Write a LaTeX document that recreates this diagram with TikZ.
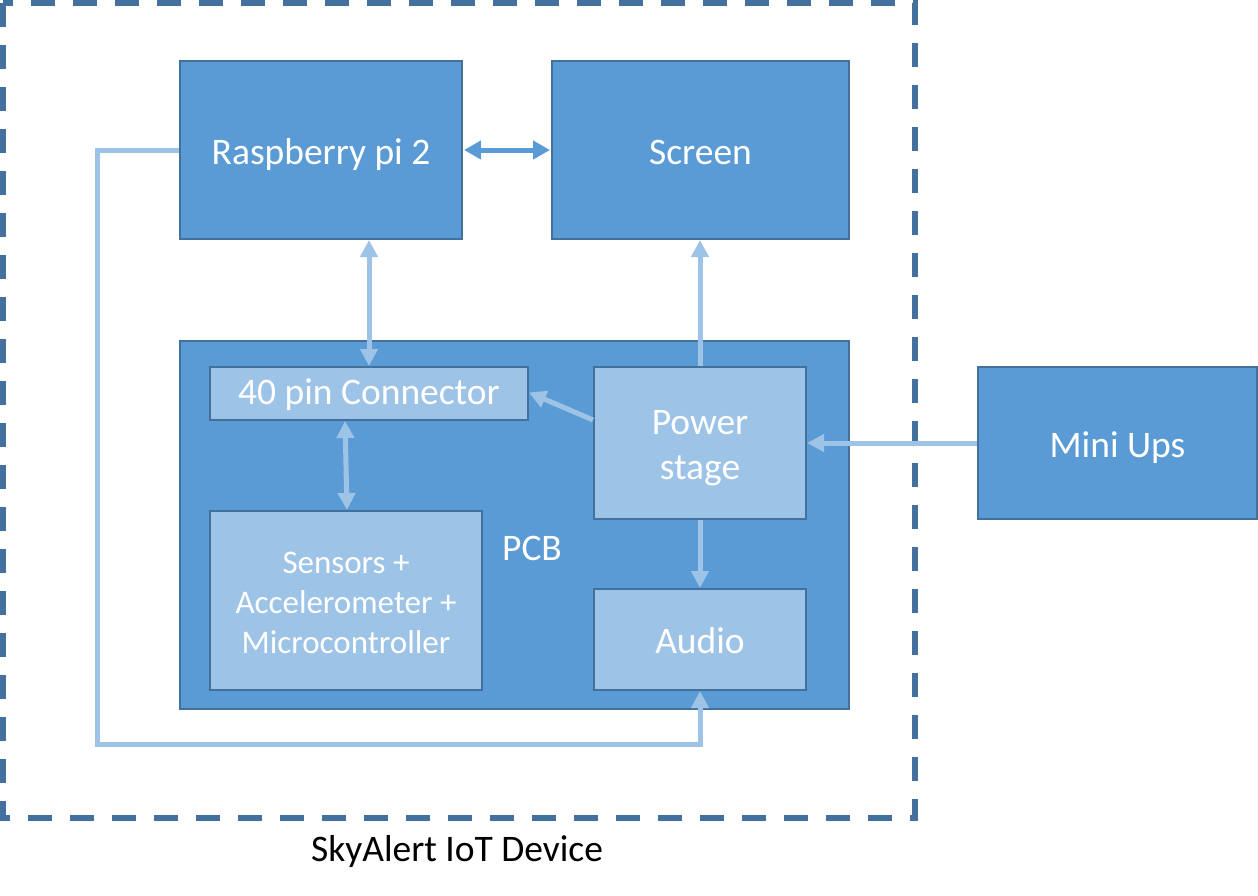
\documentclass[tikz,border=0pt]{standalone}
\usepackage{fontspec}
\setmainfont{Carlito}
\usetikzlibrary{arrows.meta}
\definecolor{dk}{HTML}{41719C}
\definecolor{md}{HTML}{5B9BD5}
\definecolor{lt}{HTML}{9DC3E6}
\begin{document}
\begin{tikzpicture}[x=1pt,y=-1pt,
  big/.style={font=\fontsize{37.5}{45}\selectfont},
  low/.style={text height=36pt,text depth=8pt},
  blk/.style={draw=dk,line width=2pt,fill=md,text=white,big},
  sub/.style={draw=dk,line width=2pt,fill=lt,text=white,big},
  la/.style={draw=lt,line width=5pt,-{Triangle[width=17pt,length=17pt]}},
  lab/.style={draw=lt,line width=5pt,{Triangle[width=17pt,length=17pt]}-{Triangle[width=17pt,length=17pt]}},
]
\useasboundingbox (0,0) rectangle (1258,895);
\draw[dk,line width=6pt,dash pattern=on 24pt off 18pt] (3,3) rectangle (915,818);
\node[blk,low,minimum width=282pt,minimum height=178pt] (rpi) at (321,150) {Raspberry pi 2};
\node[blk,low,minimum width=297pt,minimum height=178pt] (scr) at (700.5,150) {Screen};
\node[blk,minimum width=669pt,minimum height=368pt] (pcb) at (514.5,525) {};
\node[text=white,big] (pcbl) at (532,548) {PCB};
\node[sub,minimum width=318pt,minimum height=53pt,text height=30pt,text depth=8pt,inner ysep=0pt] (con) at (369,393.5) {40 pin Connector};
\node[sub,minimum width=212pt,minimum height=152pt] (pow) at (700,443) {};
\node[text=white,big,align=center] (powl) at (700,448) {Power\\stage};
\node[sub,minimum width=272pt,minimum height=179pt,align=center,font=\fontsize{33}{40}\selectfont] (sen) at (346,600.5) {};
\node[text=white,align=center,font=\fontsize{33}{40}\selectfont] (senl) at (346,602.5) {Sensors +\\Accelerometer +\\Microcontroller};
\node[sub,low,minimum width=212pt,minimum height=101pt] (aud) at (700,639.5) {Audio};
\node[blk,low,minimum width=279pt,minimum height=152pt] (ups) at (1117.5,443) {Mini Ups};
\node[big] (title) at (457,851) {SkyAlert IoT Device};
\coordinate (c1) at (97,150);
\coordinate (c2) at (97,744);
\coordinate (c3) at (700,744);
% connectors
\draw[md,line width=5pt,{Triangle[width=18pt,length=17pt]}-{Triangle[width=18pt,length=17pt]},shorten <=1pt,shorten >=1pt] (rpi.east) -- (scr.west);
\draw[lab] (rpi.south -| con.north) -- (con.north);
\draw[lab] ([xshift=-24pt]con.south) -- ([xshift=1pt]sen.north);
\draw[la] (pow.north) -- (scr.south -| pow.north);
\draw[la] ([yshift=23pt]pow.west) -- ([yshift=1pt]con.east);
\draw[la] (ups.west) -- (pow.east);
\draw[la] (pow.south) -- (aud.north);
\draw[lt,line width=5pt,-{Triangle[width=17pt,length=17pt]}] (rpi.west) -- (c1) -- (c2) -- (c3) -- (aud.south);
\end{tikzpicture}
\end{document}
